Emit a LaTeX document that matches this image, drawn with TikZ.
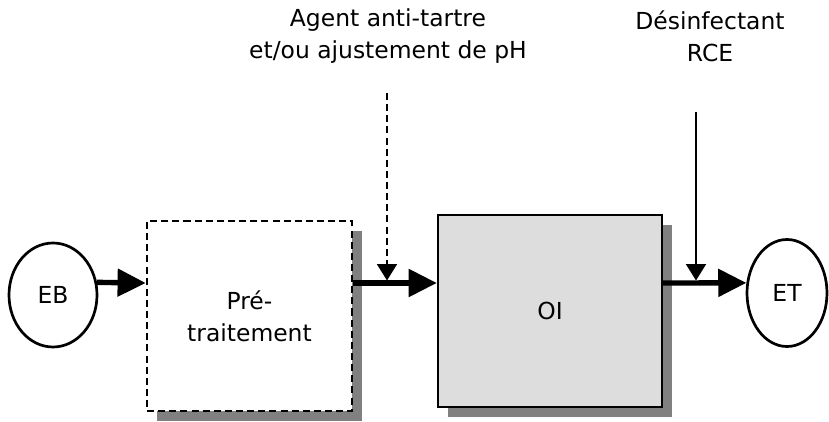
\documentclass[tikz,border=0pt]{standalone}
\usepackage{fontspec}
\setmainfont{DejaVu Sans}
\usetikzlibrary{arrows.meta, shapes.geometric, shadows}
\definecolor{ombre}{HTML}{808080}
\definecolor{fondOI}{HTML}{DDDDDD}

\tikzset{
  flux/.style={line width=4.6pt, -{Triangle[length=24pt,width=23pt]}},
  ajout/.style={line width=1.6pt, -{Triangle[length=14pt,width=17pt]}},
  bout/.style={ellipse, draw, line width=2.3pt, inner sep=0pt},
  ombrage/.style={drop shadow={shadow xshift=8.5pt, shadow yshift=-8.5pt,
      fill=ombre, opacity=1}},
}

\begin{document}
\begin{tikzpicture}[x=0.03cm, y=-0.03cm, font=\fontsize{20}{27.5}\selectfont]
  \useasboundingbox (0,0) rectangle (829,422);

  % Entree / sortie
  \node[bout, minimum width=2.64cm, minimum height=3.12cm] (EB) at (53,295) {EB};
  \node[bout, minimum width=2.4cm, minimum height=3.21cm] (ET) at (787,293) {ET};

  % Etapes
  \node[draw, fill=white, line width=2.2pt, dash pattern=on 6pt off 3.5pt,
        ombrage, minimum width=6.15cm, minimum height=5.7cm, align=center]
        (pre) at (249.5,316) {Pré-\\traitement};
  \node[draw, fill=fondOI, line width=2pt, ombrage,
        minimum width=6.72cm, minimum height=5.76cm] (OI) at (550,311) {OI};

  % Ajouts
  \node[align=center] (agent) at (388,36) {Agent anti-tartre\\et/ou ajustement de pH};
  \node[align=center] (desinf) at (710,36) {Désinfectant\\RCE};

  % Ligne principale
  \coordinate (niveau) at (0,283);
  \coordinate (dosA) at (387,93);
  \coordinate (injA) at (387,280.5);
  \coordinate (dosB) at (696,112);
  \coordinate (injB) at (696,280.5);

  \draw[flux] (EB.16) -- (pre.west |- niveau);
  \draw[flux] (pre.east |- niveau) -- (OI.west |- niveau);
  \draw[flux] (OI.east |- niveau) -- (ET.166);

  \draw[ajout, dash pattern=on 6pt off 3.5pt] (dosA) -- (injA);
  \draw[ajout] (dosB) -- (injB);
\end{tikzpicture}
\end{document}
